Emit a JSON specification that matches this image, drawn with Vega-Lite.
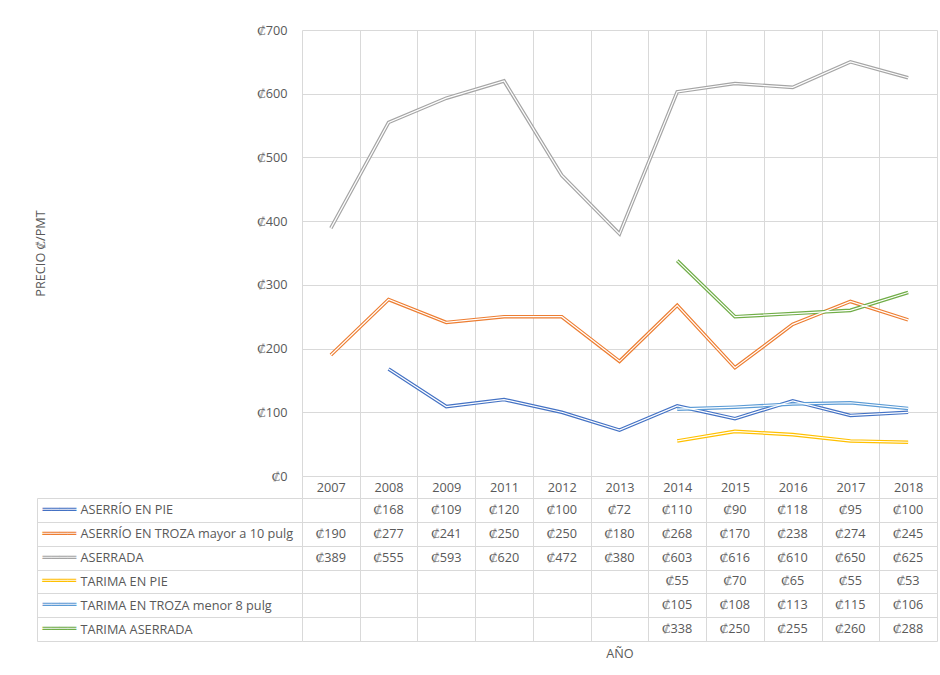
{
  "$schema": "https://vega.github.io/schema/vega-lite/v6.json",
  "autosize": {"type": "none"},
  "padding": {"left": 302, "top": 30, "right": 638, "bottom": 645},
  "background": "white",
  "bounds": "flush",
  "spacing": 22,
  "config": {
    "font": "Open Sans",
    "view": {"stroke": null},
    "locale": {"number": {"decimal": ".", "thousands": ",", "grouping": [3], "currency": ["₡", ""]}},
    "axis": {
      "labelFont": "Open Sans", "labelFontSize": 12.7, "labelColor": "#595959",
      "titleFont": "Open Sans", "titleFontSize": 12.7, "titleFontWeight": "normal", "titleColor": "#595959",
      "gridColor": "#d9d9d9", "tickColor": "#d9d9d9", "domainColor": "#d9d9d9"
    }
  },
  "datasets": {
    "precios": [
      {"serie": "ASERRÍO EN PIE", "anio": "2008", "valor": 168},
      {"serie": "ASERRÍO EN PIE", "anio": "2009", "valor": 109},
      {"serie": "ASERRÍO EN PIE", "anio": "2011", "valor": 120},
      {"serie": "ASERRÍO EN PIE", "anio": "2012", "valor": 100},
      {"serie": "ASERRÍO EN PIE", "anio": "2013", "valor": 72},
      {"serie": "ASERRÍO EN PIE", "anio": "2014", "valor": 110},
      {"serie": "ASERRÍO EN PIE", "anio": "2015", "valor": 90},
      {"serie": "ASERRÍO EN PIE", "anio": "2016", "valor": 118},
      {"serie": "ASERRÍO EN PIE", "anio": "2017", "valor": 95},
      {"serie": "ASERRÍO EN PIE", "anio": "2018", "valor": 100},
      {"serie": "ASERRÍO EN TROZA mayor a 10 pulg", "anio": "2007", "valor": 190},
      {"serie": "ASERRÍO EN TROZA mayor a 10 pulg", "anio": "2008", "valor": 277},
      {"serie": "ASERRÍO EN TROZA mayor a 10 pulg", "anio": "2009", "valor": 241},
      {"serie": "ASERRÍO EN TROZA mayor a 10 pulg", "anio": "2011", "valor": 250},
      {"serie": "ASERRÍO EN TROZA mayor a 10 pulg", "anio": "2012", "valor": 250},
      {"serie": "ASERRÍO EN TROZA mayor a 10 pulg", "anio": "2013", "valor": 180},
      {"serie": "ASERRÍO EN TROZA mayor a 10 pulg", "anio": "2014", "valor": 268},
      {"serie": "ASERRÍO EN TROZA mayor a 10 pulg", "anio": "2015", "valor": 170},
      {"serie": "ASERRÍO EN TROZA mayor a 10 pulg", "anio": "2016", "valor": 238},
      {"serie": "ASERRÍO EN TROZA mayor a 10 pulg", "anio": "2017", "valor": 274},
      {"serie": "ASERRÍO EN TROZA mayor a 10 pulg", "anio": "2018", "valor": 245},
      {"serie": "ASERRADA", "anio": "2007", "valor": 389},
      {"serie": "ASERRADA", "anio": "2008", "valor": 555},
      {"serie": "ASERRADA", "anio": "2009", "valor": 593},
      {"serie": "ASERRADA", "anio": "2011", "valor": 620},
      {"serie": "ASERRADA", "anio": "2012", "valor": 472},
      {"serie": "ASERRADA", "anio": "2013", "valor": 380},
      {"serie": "ASERRADA", "anio": "2014", "valor": 603},
      {"serie": "ASERRADA", "anio": "2015", "valor": 616},
      {"serie": "ASERRADA", "anio": "2016", "valor": 610},
      {"serie": "ASERRADA", "anio": "2017", "valor": 650},
      {"serie": "ASERRADA", "anio": "2018", "valor": 625},
      {"serie": "TARIMA EN PIE", "anio": "2014", "valor": 55},
      {"serie": "TARIMA EN PIE", "anio": "2015", "valor": 70},
      {"serie": "TARIMA EN PIE", "anio": "2016", "valor": 65},
      {"serie": "TARIMA EN PIE", "anio": "2017", "valor": 55},
      {"serie": "TARIMA EN PIE", "anio": "2018", "valor": 53},
      {"serie": "TARIMA EN TROZA menor 8 pulg", "anio": "2014", "valor": 105},
      {"serie": "TARIMA EN TROZA menor 8 pulg", "anio": "2015", "valor": 108},
      {"serie": "TARIMA EN TROZA menor 8 pulg", "anio": "2016", "valor": 113},
      {"serie": "TARIMA EN TROZA menor 8 pulg", "anio": "2017", "valor": 115},
      {"serie": "TARIMA EN TROZA menor 8 pulg", "anio": "2018", "valor": 106},
      {"serie": "TARIMA ASERRADA", "anio": "2014", "valor": 338},
      {"serie": "TARIMA ASERRADA", "anio": "2015", "valor": 250},
      {"serie": "TARIMA ASERRADA", "anio": "2016", "valor": 255},
      {"serie": "TARIMA ASERRADA", "anio": "2017", "valor": 260},
      {"serie": "TARIMA ASERRADA", "anio": "2018", "valor": 288}
    ]
  },
  "vconcat": [
    {
      "width": 635,
      "height": 446,
      "data": {"name": "precios"},
      "encoding": {
        "x": {
          "field": "anio", "type": "ordinal",
          "scale": {"type": "band", "paddingInner": 0, "paddingOuter": 0,
            "domain": ["2007", "2008", "2009", "2011", "2012", "2013", "2014", "2015", "2016", "2017", "2018"]},
          "axis": {"orient": "bottom", "title": null, "domain": false, "grid": true, "tickBand": "extent",
            "ticks": true, "tickSize": 22, "labelPadding": -17, "labelAngle": 0}
        },
        "y": {
          "field": "valor", "type": "quantitative",
          "scale": {"domain": [0, 700], "nice": false},
          "axis": {"values": [0, 100, 200, 300, 400, 500, 600, 700], "format": "$d", "grid": true, "domain": false,
            "ticks": false, "tickSize": 0, "labelPadding": 15,
            "title": "PRECIO ₡/PMT", "titleX": -262, "titleY": 223, "titleAngle": -90,
            "titleBaseline": "middle", "titleAlign": "center"}
        }
      },
      "layer": [
        {
          "mark": {"type": "line", "strokeWidth": 3.6},
          "encoding": {
            "color": {"field": "serie", "type": "nominal", "legend": null,
              "scale": {"domain": ["ASERRÍO EN PIE", "ASERRÍO EN TROZA mayor a 10 pulg", "ASERRADA", "TARIMA EN PIE", "TARIMA EN TROZA menor 8 pulg", "TARIMA ASERRADA"],
                "range": ["#4472C4", "#ED7D31", "#A5A5A5", "#FFC000", "#5B9BD5", "#70AD47"]}}
          }
        },
        {
          "mark": {"type": "line", "strokeWidth": 1.2, "color": "white"},
          "encoding": {"detail": {"field": "serie", "type": "nominal"}}
        }
      ]
    },
    {
      "width": 635,
      "height": 143,
      "data": {"name": "precios"},
      "layer": [
        {
          "mark": {"type": "rect", "opacity": 0},
          "encoding": {
            "x": {
              "field": "anio", "type": "ordinal",
              "scale": {"type": "band", "paddingInner": 0, "paddingOuter": 0,
                "domain": ["2007", "2008", "2009", "2011", "2012", "2013", "2014", "2015", "2016", "2017", "2018"]},
              "axis": {"orient": "bottom", "title": "AÑO", "titlePadding": 6, "labels": false, "ticks": false,
                "domain": false, "grid": true, "tickBand": "extent"}
            },
            "y": {
              "field": "serie", "type": "nominal",
              "scale": {"type": "band", "paddingInner": 0, "paddingOuter": 0,
                "domain": ["ASERRÍO EN PIE", "ASERRÍO EN TROZA mayor a 10 pulg", "ASERRADA", "TARIMA EN PIE", "TARIMA EN TROZA menor 8 pulg", "TARIMA ASERRADA"]},
              "axis": {"orient": "left", "offset": 265, "title": null, "domain": true, "ticks": false, "tickSize": 0,
                "grid": false, "labelExpr": "'════'", "labelFont": "DejaVu Sans Mono", "labelFontSize": 14,
                "labelAlign": "left", "labelPadding": -5, "labelBaseline": "middle",
                "labelColor": {"expr": "['#4472C4', '#ED7D31', '#A5A5A5', '#FFC000', '#5B9BD5', '#70AD47'][indexof(['ASERRÍO EN PIE', 'ASERRÍO EN TROZA mayor a 10 pulg', 'ASERRADA', 'TARIMA EN PIE', 'TARIMA EN TROZA menor 8 pulg', 'TARIMA ASERRADA'], datum.value)]"}}
            }
          }
        },
        {
          "mark": {"type": "text", "fontSize": 12.7, "color": "#595959", "font": "Open Sans"},
          "encoding": {
            "x": {
              "field": "anio", "type": "ordinal",
              "scale": {"type": "band", "paddingInner": 0, "paddingOuter": 0,
                "domain": ["2007", "2008", "2009", "2011", "2012", "2013", "2014", "2015", "2016", "2017", "2018"]},
              "axis": {"orient": "bottom", "title": "AÑO", "titlePadding": 6, "labels": false, "ticks": false,
                "domain": false, "grid": true, "tickBand": "extent"}
            },
            "y": {
              "field": "serie", "type": "nominal",
              "scale": {"type": "band", "paddingInner": 0, "paddingOuter": 0,
                "domain": ["ASERRÍO EN PIE", "ASERRÍO EN TROZA mayor a 10 pulg", "ASERRADA", "TARIMA EN PIE", "TARIMA EN TROZA menor 8 pulg", "TARIMA ASERRADA"]},
              "axis": {"orient": "left", "title": null, "domain": false, "grid": true, "ticks": true,
                "tickBand": "extent", "tickSize": 265, "labelAlign": "left", "labelPadding": -43,
                "labelLimit": 300, "labelBaseline": "middle"}
            },
            "text": {"field": "valor", "type": "quantitative", "format": "$d"}
          }
        }
      ],
      "resolve": {"axis": {"y": "independent"}}
    }
  ]
}
